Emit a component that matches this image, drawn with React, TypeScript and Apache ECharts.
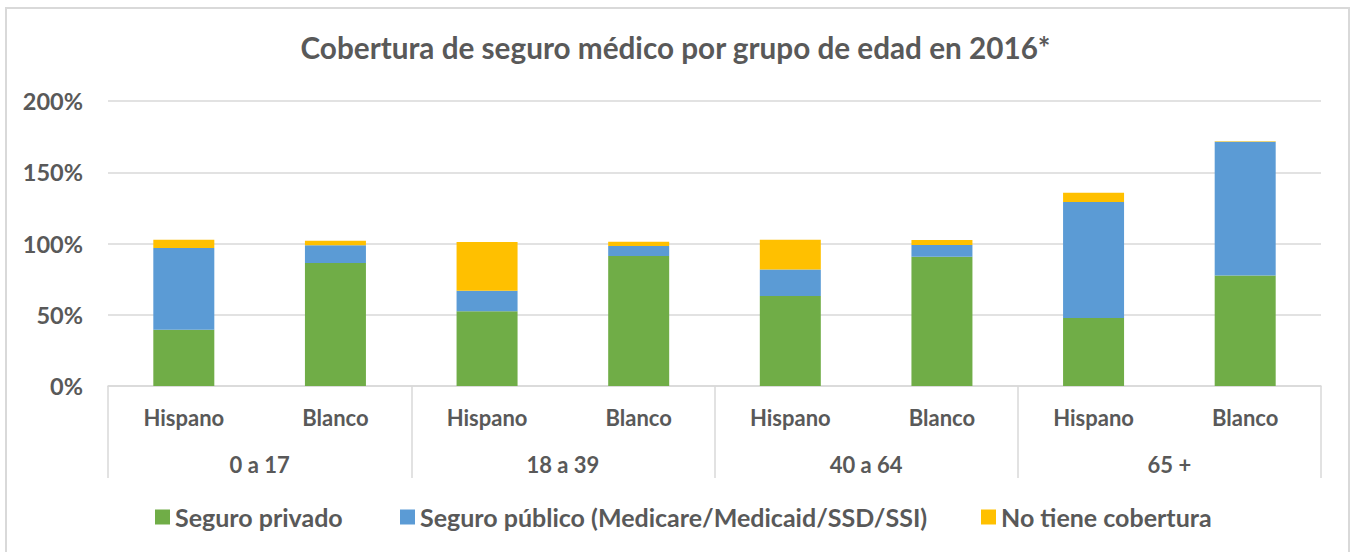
import React, { useEffect, useRef } from "react";
import * as echarts from "echarts";

const title = "Cobertura de seguro médico por grupo de edad en 2016*";
const categories = ["Hispano", "Blanco", "Hispano", "Blanco", "Hispano", "Blanco", "Hispano", "Blanco"];
const groups = ["0 a 17", "18 a 39", "40 a 64", "65 +"];
const yTicks = [0, 50, 100, 150, 200];
const seriesNames = ["Seguro privado", "Seguro público (Medicare/Medicaid/SSD/SSI)", "No tiene cobertura"];
const privado = [39.5, 86.3, 52.4, 91.2, 63.1, 90.7, 47.7, 77.6];
const publico = [57.3, 12.4, 14.5, 7.0, 18.7, 8.2, 81.4, 93.8];
const sinCobertura = [5.9, 3.3, 34.1, 3.1, 20.9, 3.5, 6.5, 0.3];
const colors = ["#70AD47", "#5B9BD5", "#FFC000"];

const FONT = "Lato";
const TEXT = "#595959";
const LINE = "#D9D9D9";

export default function App() {
  const ref = useRef<HTMLDivElement>(null);
  useEffect(() => {
    document.body.style.margin = "0";
    const chart = echarts.init(ref.current!, null, { renderer: "svg" });
    const values = [privado, publico, sinCobertura];
    const legendLefts = [155, 400, 981];
    chart.setOption({
      animation: false,
      backgroundColor: "#ffffff",
      textStyle: { fontFamily: FONT },
      title: {
        text: title,
        left: "center",
        top: 24,
        textStyle: { fontFamily: FONT, fontSize: 29.7, fontWeight: "bold", color: TEXT, lineHeight: 36 },
      },
      graphic: [
        {
          type: "rect",
          shape: { x: 6, y: 8, width: 1343, height: 560 },
          style: { fill: "none", stroke: LINE, lineWidth: 2 },
          silent: true,
        },
      ],
      legend: seriesNames.map((n, i) => ({
        data: [n],
        left: legendLefts[i],
        top: 504,
        padding: 0,
        itemWidth: 15,
        itemHeight: 15,
        itemGap: 0,
        icon: "rect",
        textStyle: { fontFamily: FONT, fontSize: 25, lineHeight: 26, fontWeight: "bold", color: TEXT },
      })),
      grid: { left: 108, right: 30, top: 101, bottom: 166 },
      xAxis: [
        {
          type: "category",
          data: categories,
          position: "bottom",
          axisLine: { show: true, lineStyle: { color: LINE, width: 1.5 } },
          axisTick: { show: false },
          axisLabel: { fontFamily: FONT, fontSize: 22, fontWeight: "bold", color: TEXT, margin: 20, interval: 0 },
        },
        {
          type: "category",
          data: groups,
          position: "bottom",
          axisLine: { show: false },
          axisTick: { show: true, length: 92, lineStyle: { color: LINE, width: 1.5 } },
          axisLabel: { fontFamily: FONT, fontSize: 22, fontWeight: "bold", color: TEXT, margin: 67, interval: 0 },
        },
      ],
      yAxis: {
        type: "value",
        min: yTicks[0],
        max: yTicks[yTicks.length - 1],
        interval: 50,
        axisLine: { show: false },
        axisTick: { show: false },
        splitLine: { lineStyle: { color: LINE, width: 1.5 } },
        axisLabel: {
          formatter: "{value}%",
          fontFamily: FONT,
          fontSize: 23.5,
          fontWeight: "bold",
          color: TEXT,
          margin: 25,
        },
      },
      series: seriesNames.map((n, i) => ({
        name: n,
        type: "bar",
        stack: "total",
        xAxisIndex: 0,
        barWidth: 61,
        data: values[i],
        itemStyle: { color: colors[i] },
      })),
    });
    return () => chart.dispose();
  }, []);
  return <div ref={ref} style={{ width: 1351, height: 552 }} />;
}
